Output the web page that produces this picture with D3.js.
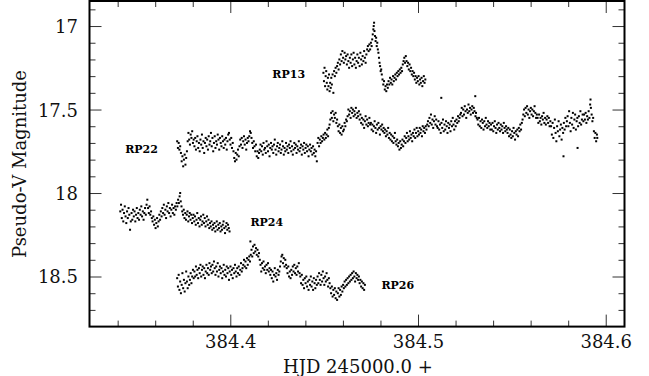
<!DOCTYPE html>
<html>
<head>
<meta charset="utf-8">
<script src="https://cdn.jsdelivr.net/npm/d3@7"></script>
<style>
  body { margin: 0; background: #fff; }
</style>
</head>
<body>
<div id="chart"></div>
<script>
// Light curves, [HJD - 2450000, pseudo-V mag]
const rp13 = [
[384.4496,17.28],[384.4499,17.33],[384.4502,17.25],[384.4505,17.36],[384.4508,17.30],[384.4511,17.27],[384.4514,17.34],[384.4517,17.38],
[384.4520,17.31],[384.4523,17.36],[384.4526,17.29],[384.4529,17.39],[384.4532,17.34],[384.4535,17.37],[384.4538,17.31],[384.4541,17.35],
[384.4545,17.29],[384.4549,17.40],[384.4553,17.27],[384.4557,17.30],[384.4561,17.25],[384.4565,17.28],[384.4569,17.24],[384.4573,17.22],
[384.4577,17.26],[384.4581,17.20],[384.4585,17.23],[384.4589,17.17],[384.4593,17.21],[384.4597,17.15],[384.4601,17.19],[384.4605,17.22],
[384.4609,17.16],[384.4613,17.20],[384.4617,17.18],[384.4621,17.23],[384.4625,17.17],[384.4629,17.21],[384.4633,17.25],[384.4637,17.19],
[384.4641,17.22],[384.4645,17.17],[384.4649,17.24],[384.4653,17.20],[384.4657,17.16],[384.4661,17.23],[384.4665,17.19],[384.4669,17.25],
[384.4673,17.21],[384.4677,17.17],[384.4681,17.22],[384.4685,17.19],[384.4689,17.24],[384.4693,17.16],[384.4697,17.20],[384.4701,17.23],
[384.4705,17.18],[384.4709,17.21],[384.4713,17.15],[384.4717,17.19],[384.4721,17.22],[384.4725,17.17],[384.4729,17.14],[384.4733,17.12],
[384.4737,17.15],[384.4741,17.11],[384.4745,17.14],[384.4749,17.10],[384.4753,17.12],[384.4756,17.08],[384.4759,17.05],[384.4762,17.02],
[384.4764,17.00],[384.4766,16.98],[384.4768,17.03],[384.4771,17.06],[384.4774,17.09],[384.4777,17.07],[384.4780,17.12],[384.4783,17.10],
[384.4786,17.14],[384.4789,17.16],[384.4792,17.19],[384.4795,17.22],[384.4798,17.24],[384.4801,17.27],[384.4804,17.26],[384.4807,17.29],
[384.4811,17.32],[384.4815,17.35],[384.4819,17.33],[384.4823,17.38],[384.4827,17.36],[384.4831,17.39],[384.4835,17.35],[384.4839,17.37],
[384.4843,17.33],[384.4847,17.35],[384.4851,17.31],[384.4855,17.34],[384.4859,17.32],[384.4863,17.35],[384.4867,17.30],[384.4871,17.33],
[384.4875,17.31],[384.4879,17.29],[384.4883,17.32],[384.4887,17.28],[384.4891,17.30],[384.4895,17.27],[384.4899,17.29],[384.4903,17.26],
[384.4907,17.28],[384.4911,17.25],[384.4915,17.27],[384.4919,17.23],[384.4923,17.21],[384.4927,17.19],[384.4931,17.22],[384.4935,17.18],
[384.4939,17.21],[384.4943,17.24],[384.4947,17.22],[384.4951,17.26],[384.4955,17.23],[384.4959,17.27],[384.4963,17.25],[384.4967,17.29],
[384.4971,17.27],[384.4975,17.30],[384.4979,17.28],[384.4983,17.32],[384.4987,17.30],[384.4991,17.34],[384.4995,17.31],[384.4999,17.33],
[384.5003,17.30],[384.5007,17.35],[384.5011,17.32],[384.5015,17.34],[384.5019,17.31],[384.5023,17.36],[384.5027,17.33],[384.5031,17.30],
[384.5035,17.34],[384.5039,17.32]
];

const rp22 = [
[384.3717,17.69],[384.3721,17.73],[384.3725,17.70],[384.3729,17.74],[384.3733,17.72],[384.3737,17.76],[384.3741,17.81],[384.3745,17.78],
[384.3749,17.84],[384.3753,17.80],[384.3757,17.77],[384.3761,17.83],[384.3765,17.79],[384.3769,17.75],[384.3773,17.69],[384.3777,17.64],
[384.3781,17.68],[384.3785,17.71],[384.3789,17.65],[384.3793,17.67],[384.3797,17.63],[384.3801,17.70],[384.3805,17.68],[384.3809,17.72],
[384.3813,17.67],[384.3817,17.74],[384.3821,17.69],[384.3825,17.66],[384.3829,17.73],[384.3833,17.70],[384.3837,17.75],[384.3841,17.68],
[384.3845,17.71],[384.3849,17.65],[384.3853,17.73],[384.3857,17.69],[384.3861,17.76],[384.3865,17.70],[384.3869,17.67],[384.3873,17.72],
[384.3877,17.68],[384.3881,17.74],[384.3885,17.66],[384.3889,17.71],[384.3893,17.69],[384.3897,17.64],[384.3901,17.72],[384.3905,17.67],
[384.3909,17.75],[384.3913,17.70],[384.3917,17.66],[384.3921,17.73],[384.3925,17.69],[384.3929,17.71],[384.3933,17.65],[384.3937,17.68],
[384.3941,17.74],[384.3945,17.67],[384.3949,17.70],[384.3953,17.72],[384.3957,17.66],[384.3961,17.69],[384.3965,17.73],[384.3969,17.68],
[384.3973,17.71],[384.3977,17.67],[384.3981,17.74],[384.3985,17.69],[384.3989,17.65],[384.3993,17.64],[384.3997,17.68],[384.4001,17.71],
[384.4005,17.67],[384.4009,17.73],[384.4013,17.70],[384.4017,17.75],[384.4021,17.79],[384.4025,17.81],[384.4029,17.76],[384.4033,17.80],
[384.4037,17.77],[384.4041,17.74],[384.4045,17.78],[384.4049,17.72],[384.4053,17.68],[384.4057,17.71],[384.4061,17.67],[384.4065,17.73],
[384.4069,17.69],[384.4073,17.66],[384.4077,17.71],[384.4081,17.68],[384.4085,17.74],[384.4089,17.70],[384.4093,17.67],[384.4097,17.69],
[384.4101,17.66],[384.4105,17.63],[384.4109,17.64],[384.4113,17.67],[384.4117,17.70],[384.4121,17.73],[384.4125,17.69],[384.4129,17.72],
[384.4133,17.75],[384.4137,17.71],[384.4141,17.78],[384.4145,17.75],[384.4149,17.79],[384.4153,17.76],[384.4157,17.74],[384.4161,17.71],
[384.4165,17.75],[384.4169,17.72],[384.4173,17.77],[384.4177,17.70],[384.4181,17.74],[384.4185,17.73],[384.4189,17.76],[384.4193,17.69],
[384.4197,17.72],[384.4201,17.75],[384.4205,17.71],[384.4209,17.78],[384.4213,17.73],[384.4217,17.70],[384.4221,17.74],[384.4225,17.72],
[384.4229,17.76],[384.4233,17.71],[384.4237,17.68],[384.4241,17.74],[384.4245,17.77],[384.4249,17.72],[384.4253,17.70],[384.4257,17.75],
[384.4261,17.73],[384.4265,17.71],[384.4269,17.76],[384.4273,17.74],[384.4277,17.69],[384.4281,17.72],[384.4285,17.77],[384.4289,17.73],
[384.4293,17.75],[384.4297,17.70],[384.4301,17.74],[384.4305,17.72],[384.4309,17.76],[384.4313,17.71],[384.4317,17.73],[384.4321,17.69],
[384.4325,17.75],[384.4329,17.72],[384.4333,17.77],[384.4337,17.74],[384.4341,17.70],[384.4345,17.73],[384.4349,17.71],[384.4353,17.76],
[384.4357,17.72],[384.4361,17.74],[384.4365,17.69],[384.4369,17.75],[384.4373,17.73],[384.4377,17.71],[384.4381,17.77],[384.4385,17.72],
[384.4389,17.74],[384.4393,17.70],[384.4397,17.76],[384.4401,17.73],[384.4405,17.71],[384.4409,17.75],[384.4413,17.72],[384.4417,17.78],
[384.4421,17.74],[384.4425,17.71],[384.4429,17.75],[384.4433,17.73],[384.4437,17.77],[384.4441,17.72],[384.4445,17.76],[384.4449,17.74],
[384.4453,17.78],[384.4457,17.75],[384.4461,17.81],[384.4465,17.70],[384.4469,17.67],[384.4473,17.72],[384.4477,17.68],[384.4481,17.70],
[384.4485,17.66],[384.4489,17.69],[384.4493,17.67],[384.4497,17.65],[384.4501,17.68],[384.4505,17.64],[384.4509,17.67],[384.4513,17.65],
[384.4517,17.62],[384.4521,17.66],[384.4525,17.61],[384.4529,17.59],[384.4533,17.56],[384.4537,17.52],[384.4541,17.55],[384.4545,17.51],
[384.4549,17.57],[384.4553,17.53],[384.4557,17.55],[384.4561,17.52],[384.4565,17.58],[384.4569,17.56],[384.4573,17.60],[384.4577,17.63],
[384.4581,17.59],[384.4585,17.64],[384.4589,17.61],[384.4593,17.65],[384.4597,17.60],[384.4601,17.63],[384.4605,17.62],[384.4609,17.58],
[384.4613,17.60],[384.4617,17.56],[384.4621,17.57],[384.4625,17.54],[384.4629,17.50],[384.4633,17.53],[384.4637,17.51],[384.4641,17.55],
[384.4645,17.49],[384.4649,17.52],[384.4653,17.50],[384.4657,17.54],[384.4661,17.51],[384.4665,17.53],[384.4669,17.49],[384.4673,17.55],
[384.4677,17.52],[384.4681,17.54],[384.4685,17.51],[384.4689,17.56],[384.4693,17.53],[384.4697,17.58],[384.4701,17.55],[384.4705,17.59],
[384.4709,17.56],[384.4713,17.61],[384.4717,17.57],[384.4721,17.54],[384.4725,17.59],[384.4729,17.56],[384.4733,17.60],[384.4737,17.58],
[384.4741,17.55],[384.4745,17.59],[384.4749,17.58],[384.4753,17.62],[384.4757,17.59],[384.4761,17.63],[384.4765,17.60],[384.4769,17.57],
[384.4773,17.61],[384.4777,17.64],[384.4781,17.59],[384.4785,17.62],[384.4789,17.58],[384.4793,17.61],[384.4797,17.65],[384.4801,17.60],
[384.4805,17.62],[384.4809,17.59],[384.4813,17.63],[384.4817,17.61],[384.4821,17.64],[384.4825,17.62],[384.4829,17.66],[384.4833,17.63],
[384.4837,17.65],[384.4841,17.61],[384.4845,17.67],[384.4849,17.64],[384.4853,17.68],[384.4857,17.65],[384.4861,17.69],[384.4865,17.66],
[384.4869,17.70],[384.4873,17.67],[384.4877,17.64],[384.4881,17.69],[384.4885,17.71],[384.4889,17.68],[384.4893,17.72],[384.4897,17.70],
[384.4901,17.74],[384.4905,17.69],[384.4909,17.73],[384.4913,17.71],[384.4917,17.68],[384.4921,17.72],[384.4925,17.69],[384.4929,17.66],
[384.4933,17.70],[384.4937,17.67],[384.4941,17.64],[384.4945,17.69],[384.4949,17.66],[384.4953,17.68],[384.4957,17.63],[384.4961,17.67],
[384.4965,17.65],[384.4969,17.69],[384.4973,17.64],[384.4977,17.66],[384.4981,17.62],[384.4985,17.67],[384.4989,17.64],[384.4993,17.61],
[384.4997,17.66],[384.5001,17.63],[384.5005,17.65],[384.5009,17.61],[384.5013,17.64],[384.5017,17.62],[384.5021,17.66],[384.5025,17.60],
[384.5029,17.63],[384.5033,17.61],[384.5037,17.64],[384.5041,17.60],[384.5045,17.62],[384.5049,17.59],[384.5053,17.57],[384.5057,17.60],
[384.5061,17.55],[384.5065,17.58],[384.5069,17.53],[384.5073,17.59],[384.5077,17.56],[384.5081,17.61],[384.5085,17.57],[384.5089,17.54],
[384.5093,17.59],[384.5097,17.56],[384.5101,17.60],[384.5105,17.61],[384.5109,17.57],[384.5113,17.62],[384.5117,17.59],[384.5121,17.64],
[384.5124,17.43],[384.5125,17.58],[384.5129,17.61],[384.5133,17.56],[384.5137,17.63],[384.5141,17.59],[384.5145,17.62],[384.5149,17.57],
[384.5153,17.60],[384.5157,17.64],[384.5161,17.58],[384.5165,17.61],[384.5169,17.59],[384.5173,17.63],[384.5177,17.57],[384.5181,17.60],
[384.5185,17.55],[384.5189,17.59],[384.5193,17.62],[384.5197,17.57],[384.5201,17.60],[384.5205,17.56],[384.5209,17.58],[384.5213,17.54],
[384.5217,17.57],[384.5221,17.55],[384.5225,17.53],[384.5229,17.52],[384.5233,17.49],[384.5237,17.54],[384.5241,17.50],[384.5245,17.53],
[384.5249,17.48],[384.5253,17.51],[384.5257,17.55],[384.5261,17.50],[384.5265,17.52],[384.5269,17.47],[384.5273,17.51],[384.5277,17.49],
[384.5281,17.53],[384.5285,17.50],[384.5289,17.48],[384.5293,17.52],[384.5297,17.49],[384.5301,17.51],[384.5305,17.42],[384.5306,17.54],
[384.5309,17.52],[384.5313,17.55],[384.5317,17.56],[384.5321,17.59],[384.5325,17.55],[384.5329,17.60],[384.5333,17.57],[384.5337,17.61],
[384.5341,17.56],[384.5345,17.58],[384.5349,17.62],[384.5353,17.57],[384.5357,17.60],[384.5361,17.55],[384.5365,17.59],[384.5369,17.61],
[384.5373,17.57],[384.5377,17.60],[384.5381,17.58],[384.5385,17.62],[384.5389,17.59],[384.5393,17.62],[384.5397,17.58],[384.5401,17.63],
[384.5405,17.60],[384.5409,17.57],[384.5413,17.61],[384.5417,17.64],[384.5421,17.59],[384.5425,17.62],[384.5429,17.58],[384.5433,17.61],
[384.5437,17.63],[384.5441,17.59],[384.5445,17.62],[384.5449,17.60],[384.5453,17.64],[384.5457,17.58],[384.5461,17.61],[384.5465,17.63],
[384.5469,17.60],[384.5473,17.62],[384.5477,17.64],[384.5481,17.61],[384.5485,17.66],[384.5489,17.62],[384.5493,17.65],[384.5497,17.67],
[384.5501,17.63],[384.5505,17.66],[384.5509,17.61],[384.5513,17.64],[384.5517,17.68],[384.5521,17.63],[384.5525,17.65],[384.5529,17.62],
[384.5533,17.66],[384.5537,17.61],[384.5541,17.63],[384.5545,17.59],[384.5549,17.62],[384.5553,17.58],[384.5557,17.56],[384.5561,17.53],
[384.5565,17.50],[384.5569,17.54],[384.5573,17.49],[384.5577,17.52],[384.5581,17.48],[384.5585,17.53],[384.5589,17.50],[384.5593,17.55],
[384.5597,17.51],[384.5601,17.49],[384.5605,17.53],[384.5609,17.50],[384.5613,17.54],[384.5617,17.51],[384.5621,17.48],[384.5625,17.52],
[384.5629,17.55],[384.5633,17.53],[384.5637,17.55],[384.5641,17.58],[384.5645,17.53],[384.5649,17.57],[384.5653,17.55],[384.5657,17.59],
[384.5661,17.54],[384.5665,17.56],[384.5669,17.52],[384.5673,17.58],[384.5677,17.55],[384.5681,17.59],[384.5685,17.56],[384.5689,17.54],
[384.5693,17.58],[384.5697,17.55],[384.5701,17.60],[384.5705,17.57],[384.5709,17.60],[384.5713,17.65],[384.5717,17.58],[384.5721,17.67],
[384.5725,17.61],[384.5729,17.56],[384.5733,17.64],[384.5737,17.69],[384.5741,17.60],[384.5745,17.63],[384.5749,17.57],[384.5753,17.66],
[384.5757,17.62],[384.5761,17.59],[384.5765,17.68],[384.5769,17.61],[384.5773,17.64],[384.5775,17.78],[384.5777,17.58],[384.5781,17.62],
[384.5785,17.55],[384.5789,17.60],[384.5793,17.57],[384.5797,17.54],[384.5801,17.60],[384.5805,17.51],[384.5809,17.58],[384.5813,17.63],
[384.5817,17.55],[384.5821,17.59],[384.5825,17.52],[384.5829,17.61],[384.5833,17.56],[384.5837,17.53],[384.5841,17.62],[384.5845,17.57],
[384.5849,17.55],[384.5850,17.73],[384.5853,17.60],[384.5857,17.54],[384.5861,17.58],[384.5865,17.51],[384.5869,17.59],[384.5873,17.56],
[384.5877,17.53],[384.5881,17.57],[384.5885,17.53],[384.5889,17.56],[384.5893,17.52],[384.5897,17.58],[384.5901,17.54],[384.5905,17.56],
[384.5909,17.51],[384.5913,17.55],[384.5917,17.47],[384.5919,17.44],[384.5921,17.49],[384.5925,17.53],[384.5929,17.57],[384.5933,17.55],
[384.5937,17.63],[384.5941,17.67],[384.5945,17.64],[384.5949,17.69],[384.5953,17.65],[384.5955,17.67]
];

const rp24 = [
[384.3414,18.11],[384.3418,18.07],[384.3422,18.15],[384.3426,18.10],[384.3430,18.17],[384.3434,18.12],[384.3438,18.08],[384.3442,18.14],
[384.3446,18.18],[384.3450,18.11],[384.3454,18.15],[384.3458,18.09],[384.3462,18.13],[384.3466,18.22],[384.3470,18.17],[384.3474,18.12],
[384.3478,18.16],[384.3482,18.10],[384.3486,18.14],[384.3490,18.11],[384.3494,18.17],[384.3498,18.13],[384.3502,18.09],[384.3506,18.15],
[384.3510,18.12],[384.3514,18.16],[384.3518,18.10],[384.3522,18.13],[384.3526,18.08],[384.3530,18.14],[384.3534,18.11],[384.3538,18.16],
[384.3542,18.12],[384.3546,18.09],[384.3550,18.13],[384.3554,18.07],[384.3558,18.04],[384.3562,18.09],[384.3566,18.12],[384.3570,18.08],
[384.3574,18.13],[384.3578,18.11],[384.3582,18.15],[384.3586,18.17],[384.3590,18.14],[384.3594,18.19],[384.3598,18.16],[384.3602,18.21],
[384.3606,18.18],[384.3610,18.15],[384.3614,18.20],[384.3618,18.17],[384.3622,18.13],[384.3626,18.16],[384.3630,18.11],[384.3634,18.14],
[384.3638,18.09],[384.3642,18.12],[384.3646,18.07],[384.3650,18.13],[384.3654,18.10],[384.3658,18.15],[384.3662,18.08],[384.3666,18.11],
[384.3670,18.06],[384.3674,18.12],[384.3678,18.09],[384.3682,18.14],[384.3686,18.10],[384.3690,18.07],[384.3694,18.12],[384.3698,18.09],
[384.3702,18.13],[384.3706,18.08],[384.3710,18.10],[384.3714,18.06],[384.3718,18.08],[384.3722,18.04],[384.3726,18.06],[384.3730,18.02],
[384.3733,18.00],[384.3736,18.05],[384.3740,18.08],[384.3744,18.11],[384.3748,18.13],[384.3752,18.10],[384.3756,18.15],[384.3760,18.12],
[384.3764,18.16],[384.3768,18.13],[384.3772,18.11],[384.3776,18.17],[384.3780,18.14],[384.3784,18.12],[384.3788,18.16],[384.3792,18.13],
[384.3796,18.18],[384.3800,18.15],[384.3804,18.13],[384.3808,18.17],[384.3812,18.14],[384.3816,18.19],[384.3820,18.16],[384.3824,18.12],
[384.3828,18.18],[384.3832,18.15],[384.3836,18.20],[384.3840,18.16],[384.3844,18.14],[384.3848,18.19],[384.3852,18.17],[384.3856,18.13],
[384.3860,18.18],[384.3864,18.15],[384.3868,18.20],[384.3872,18.17],[384.3876,18.14],[384.3880,18.19],[384.3884,18.16],[384.3888,18.21],
[384.3892,18.18],[384.3896,18.20],[384.3900,18.17],[384.3904,18.22],[384.3908,18.19],[384.3912,18.21],[384.3916,18.18],[384.3920,18.23],
[384.3924,18.20],[384.3928,18.17],[384.3932,18.22],[384.3936,18.19],[384.3940,18.21],[384.3944,18.18],[384.3948,18.23],[384.3952,18.20],
[384.3956,18.22],[384.3960,18.19],[384.3964,18.17],[384.3968,18.21],[384.3972,18.24],[384.3976,18.20],[384.3980,18.18],[384.3984,18.22],
[384.3988,18.19],[384.3992,18.21],[384.3996,18.23]
];

const rp26 = [
[384.3717,18.51],[384.3721,18.56],[384.3725,18.49],[384.3729,18.58],[384.3733,18.53],[384.3737,18.60],[384.3741,18.55],[384.3745,18.48],
[384.3749,18.57],[384.3753,18.52],[384.3757,18.59],[384.3761,18.54],[384.3765,18.47],[384.3769,18.53],[384.3773,18.57],[384.3777,18.50],
[384.3781,18.55],[384.3785,18.52],[384.3789,18.48],[384.3793,18.54],[384.3797,18.50],[384.3801,18.46],[384.3805,18.51],[384.3809,18.47],
[384.3813,18.50],[384.3817,18.44],[384.3821,18.49],[384.3825,18.46],[384.3829,18.51],[384.3833,18.45],[384.3837,18.48],[384.3841,18.43],
[384.3845,18.50],[384.3849,18.46],[384.3853,18.44],[384.3857,18.49],[384.3861,18.45],[384.3865,18.51],[384.3869,18.47],[384.3873,18.43],
[384.3877,18.48],[384.3881,18.45],[384.3885,18.49],[384.3889,18.42],[384.3893,18.46],[384.3897,18.44],[384.3901,18.48],[384.3905,18.43],
[384.3909,18.47],[384.3913,18.41],[384.3917,18.45],[384.3921,18.49],[384.3925,18.44],[384.3929,18.47],[384.3933,18.42],[384.3937,18.50],
[384.3941,18.46],[384.3945,18.44],[384.3949,18.48],[384.3953,18.45],[384.3957,18.51],[384.3961,18.47],[384.3965,18.43],[384.3969,18.49],
[384.3973,18.46],[384.3977,18.50],[384.3981,18.44],[384.3985,18.48],[384.3989,18.45],[384.3993,18.52],[384.3997,18.47],[384.4001,18.44],
[384.4005,18.49],[384.4009,18.46],[384.4013,18.51],[384.4017,18.45],[384.4021,18.48],[384.4025,18.43],[384.4029,18.47],[384.4033,18.50],
[384.4037,18.45],[384.4041,18.48],[384.4045,18.44],[384.4049,18.49],[384.4053,18.46],[384.4057,18.42],[384.4061,18.47],[384.4065,18.45],
[384.4069,18.43],[384.4073,18.40],[384.4077,18.44],[384.4081,18.41],[384.4085,18.45],[384.4089,18.39],[384.4093,18.43],[384.4097,18.40],
[384.4101,18.38],[384.4105,18.41],[384.4107,18.29],[384.4109,18.37],[384.4113,18.34],[384.4117,18.38],[384.4121,18.32],[384.4125,18.36],
[384.4129,18.31],[384.4133,18.35],[384.4137,18.33],[384.4141,18.37],[384.4145,18.34],[384.4149,18.38],[384.4153,18.36],[384.4157,18.40],
[384.4161,18.43],[384.4165,18.47],[384.4169,18.42],[384.4173,18.45],[384.4177,18.41],[384.4181,18.46],[384.4185,18.44],[384.4189,18.48],
[384.4193,18.43],[384.4197,18.46],[384.4201,18.42],[384.4205,18.47],[384.4209,18.45],[384.4213,18.49],[384.4217,18.46],[384.4221,18.51],
[384.4225,18.47],[384.4229,18.53],[384.4233,18.49],[384.4237,18.45],[384.4241,18.50],[384.4245,18.48],[384.4249,18.52],[384.4253,18.46],
[384.4257,18.49],[384.4261,18.47],[384.4265,18.44],[384.4269,18.41],[384.4273,18.38],[384.4277,18.37],[384.4281,18.42],[384.4285,18.39],
[384.4289,18.44],[384.4293,18.40],[384.4297,18.43],[384.4301,18.45],[384.4305,18.48],[384.4309,18.44],[384.4313,18.50],[384.4317,18.47],
[384.4321,18.51],[384.4325,18.46],[384.4329,18.49],[384.4333,18.44],[384.4337,18.47],[384.4341,18.43],[384.4345,18.48],[384.4349,18.45],
[384.4353,18.49],[384.4357,18.44],[384.4361,18.47],[384.4365,18.42],[384.4369,18.48],[384.4373,18.50],[384.4377,18.54],[384.4381,18.49],
[384.4385,18.55],[384.4389,18.52],[384.4393,18.57],[384.4397,18.51],[384.4401,18.54],[384.4405,18.50],[384.4409,18.56],[384.4413,18.53],
[384.4417,18.58],[384.4421,18.52],[384.4425,18.55],[384.4429,18.50],[384.4433,18.56],[384.4437,18.53],[384.4441,18.58],[384.4445,18.51],
[384.4449,18.54],[384.4453,18.57],[384.4457,18.52],[384.4461,18.55],[384.4465,18.50],[384.4469,18.54],[384.4473,18.48],[384.4477,18.52],
[384.4481,18.55],[384.4485,18.49],[384.4489,18.53],[384.4493,18.47],[384.4497,18.51],[384.4501,18.55],[384.4505,18.50],[384.4509,18.53],
[384.4513,18.48],[384.4517,18.52],[384.4521,18.56],[384.4525,18.51],[384.4529,18.54],[384.4533,18.57],[384.4537,18.60],[384.4541,18.56],
[384.4545,18.62],[384.4549,18.58],[384.4553,18.61],[384.4557,18.57],[384.4561,18.63],[384.4565,18.59],[384.4569,18.64],[384.4573,18.60],
[384.4577,18.57],[384.4581,18.62],[384.4585,18.58],[384.4589,18.61],[384.4593,18.56],[384.4597,18.59],[384.4601,18.55],[384.4605,18.57],
[384.4609,18.53],[384.4613,18.56],[384.4617,18.52],[384.4621,18.55],[384.4625,18.51],[384.4629,18.54],[384.4633,18.50],[384.4637,18.53],
[384.4641,18.49],[384.4645,18.52],[384.4649,18.48],[384.4653,18.51],[384.4657,18.47],[384.4661,18.50],[384.4665,18.53],[384.4669,18.48],
[384.4673,18.51],[384.4677,18.49],[384.4681,18.52],[384.4685,18.50],[384.4689,18.54],[384.4693,18.52],[384.4697,18.56],[384.4701,18.53],
[384.4705,18.57],[384.4709,18.54],[384.4713,18.58],[384.4717,18.55]
];

const series = [rp13, rp22, rp24, rp26];

// star names, anchored at [HJD, mag] of the text baseline start
const labels = [
    { name: 'RP13', t: 384.4224, mag: 17.314 },
    { name: 'RP22', t: 384.3440, mag: 17.763 },
    { name: 'RP24', t: 384.4107, mag: 18.197 },
    { name: 'RP26', t: 384.4805, mag: 18.575 }
];

const xMajor = [384.4, 384.5, 384.6];
const xMinor = [384.34, 384.36, 384.38, 384.42, 384.44, 384.46, 384.48, 384.52, 384.54, 384.56, 384.58];
const yMajor = [17, 17.5, 18, 18.5];
const yMinor = [16.9, 17.1, 17.2, 17.3, 17.4, 17.6, 17.7, 17.8, 17.9, 18.1, 18.2, 18.3, 18.4, 18.6, 18.7];

const W = 649, H = 376;
const margin = { top: 1, right: 24.5, bottom: 49.4, left: 89.5 };
const width = W - margin.left - margin.right;
const height = H - margin.top - margin.bottom;

const serif = "'DejaVu Serif', serif";

let svg = d3.select('#chart')
    .append('svg')
    .attr('width', W)
    .attr('height', H)
    .append('g')
    .attr('transform', 'translate(' + margin.left + ',' + margin.top + ')');

let x = d3.scaleLinear().domain([384.325, 384.61]).range([0, width]);
let y = d3.scaleLinear().domain([16.85, 18.8]).range([0, height]);

// ticks on all four sides, pointing inward
function tickAxis(axis, vals, size, transform) {
    let g = svg.append('g')
        .attr('transform', transform || null)
        .call(axis.tickValues(vals).tickSize(-size).tickFormat(''));
    g.select('.domain').remove();
    g.selectAll('line').attr('stroke', '#333').attr('stroke-width', 1);
    return g;
}
tickAxis(d3.axisBottom(x), xMinor, 6, 'translate(0,' + height + ')');
tickAxis(d3.axisTop(x), xMinor, 6);
tickAxis(d3.axisLeft(y), yMinor, 6);
tickAxis(d3.axisRight(y), yMinor, 6, 'translate(' + width + ',0)');
tickAxis(d3.axisTop(x), xMajor, 12);
tickAxis(d3.axisRight(y), yMajor, 12, 'translate(' + width + ',0)');

let xAxis = svg.append('g')
    .attr('transform', 'translate(0,' + height + ')')
    .call(d3.axisBottom(x).tickValues(xMajor).tickSize(-12).tickPadding(9).tickFormat(d3.format('.1f')));
xAxis.select('.domain').remove();
xAxis.selectAll('line').attr('stroke', '#333');
xAxis.selectAll('text').attr('font-family', serif).attr('font-size', 18).attr('fill', '#111');

let yAxis = svg.append('g')
    .call(d3.axisLeft(y).tickValues(yMajor).tickSize(-12).tickPadding(11.5).tickFormat(d3.format('')));
yAxis.select('.domain').remove();
yAxis.selectAll('line').attr('stroke', '#333');
yAxis.selectAll('text').attr('font-family', serif).attr('font-size', 18).attr('fill', '#111').attr('dy', '0.36em');

// Points
series.forEach(function (s) {
    svg.append('g')
        .selectAll('rect')
        .data(s)
        .enter()
        .append('rect')
        .attr('x', function (d) { return x(d[0]) - 1; })
        .attr('y', function (d) { return y(d[1]) - 1; })
        .attr('width', 2)
        .attr('height', 2)
        .attr('fill', '#000');
});

svg.selectAll('.lbl')
    .data(labels)
    .enter()
    .append('text')
    .attr('class', 'lbl')
    .attr('x', function (d) { return x(d.t); })
    .attr('y', function (d) { return y(d.mag); })
    .attr('font-family', serif)
    .attr('font-weight', 'bold')
    .attr('font-size', 11)
    .text(function (d) { return d.name; });

// Frame
svg.append('rect')
    .attr('width', width)
    .attr('height', height)
    .attr('fill', 'none')
    .attr('stroke', '#000')
    .attr('stroke-width', 2);

svg.append('text')
    .attr('x', 283 - margin.left)
    .attr('y', height + 46)
    .attr('font-family', serif)
    .attr('font-size', 18)
    .attr('fill', '#111')
    .text('HJD 245000.0 +');

svg.append('text')
    .attr('transform', 'translate(' + (25.5 - margin.left) + ',' + (164 - margin.top) + ')rotate(-90)')
    .attr('text-anchor', 'middle')
    .attr('font-family', serif)
    .attr('font-size', 18)
    .attr('fill', '#111')
    .text('Pseudo-V Magnitude');
</script>
</body>
</html>
